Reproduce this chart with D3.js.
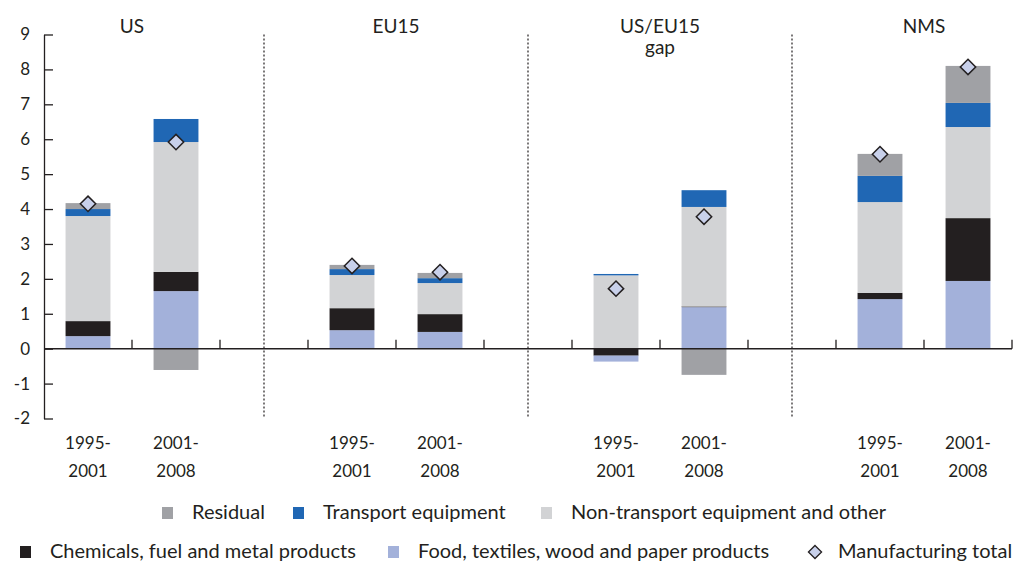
<!DOCTYPE html>
<html lang="en">
<head>
    <meta charset="UTF-8">
    <title>Manufacturing productivity growth by industry</title>
    <script src="https://d3js.org/d3.v7.min.js"></script>
    <style>
        body { margin: 0; background: white; }
        svg { display: block; font-family: Lato, "Open Sans", sans-serif; }
        text { fill: #231f20; }
    </style>
</head>
<body>
    <svg id="chart"></svg>

    <script>
        const width = 1016;
        const height = 562;

        // Data
        const groups = ["US", "EU15", "US/EU15 gap", "NMS"];
        const periods = ["1995-2001", "2001-2008"];

        // one value per bar, in order US 95-01, US 01-08, EU15 95-01, ...
        const food      = [0.36, 1.65, 0.53, 0.48, -0.17, 1.19, 1.42, 1.94];
        const chemicals = [0.43, 0.55, 0.63, 0.51, -0.20, 0.02, 0.18, 1.80];
        const nonTrans  = [3.01, 3.72, 0.95, 0.89, 2.10, 2.85, 2.60, 2.61];
        const transport = [0.20, 0.66, 0.17, 0.14, 0.04, 0.48, 0.75, 0.69];
        const residual  = [0.17, -0.61, 0.12, 0.15, 0.00, -0.75, 0.63, 1.06];
        const totals    = [4.15, 5.92, 2.37, 2.19, 1.72, 3.78, 5.57, 8.07];

        const yTicks = [-2, -1, 0, 1, 2, 3, 4, 5, 6, 7, 8, 9];

        const series = [
            { key: "food", label: "Food, textiles, wood and paper products", values: food, color: "#a3b1da" },
            { key: "chem", label: "Chemicals, fuel and metal products", values: chemicals, color: "#231f20" },
            { key: "nontrans", label: "Non-transport equipment and other", values: nonTrans, color: "#d2d3d5" },
            { key: "transport", label: "Transport equipment", values: transport, color: "#2067b4" },
            { key: "residual", label: "Residual", values: residual, color: "#a0a1a5" }
        ];

        const svg = d3.select("#chart")
            .attr("width", width)
            .attr("height", height);

        // slots: two bars per group, an empty slot (divider) between groups
        const slots = [];
        groups.forEach((g, gi) => {
            if (gi > 0) slots.push("div" + gi);
            periods.forEach(p => slots.push(g + "|" + p));
        });

        const x = d3.scaleBand()
            .domain(slots)
            .range([44, 1012])
            .padding(0);

        const y = d3.scaleLinear()
            .domain([-2, 9])
            .range([418.5, 34.5]);

        const barW = x.bandwidth() * 0.51;

        const bars = [];
        groups.forEach((g, gi) => periods.forEach((p, pi) => bars.push({ group: g, period: p, i: gi * 2 + pi })));

        // stack: positives upwards in series order, negatives downwards in reverse order
        const segments = [];
        bars.forEach(b => {
            let pos = 0;
            series.forEach(s => {
                const v = s.values[b.i];
                if (v > 0) { segments.push({ b, s, y0: pos, y1: pos + v }); pos += v; }
            });
            let neg = 0;
            series.slice().reverse().forEach(s => {
                const v = s.values[b.i];
                if (v < 0) { segments.push({ b, s, y0: neg + v, y1: neg }); neg += v; }
            });
        });

        const barX = b => x(b.group + "|" + b.period) + (x.bandwidth() - barW) / 2;
        const barC = b => x(b.group + "|" + b.period) + x.bandwidth() / 2;

        svg.append("g")
            .selectAll("rect")
            .data(segments)
            .join("rect")
            .attr("x", d => barX(d.b))
            .attr("width", barW)
            .attr("y", d => y(d.y1))
            .attr("height", d => y(d.y0) - y(d.y1))
            .attr("fill", d => d.s.color);

        // dotted dividers
        svg.append("g")
            .selectAll("line")
            .data(slots.filter(s => s.startsWith("div")))
            .join("line")
            .attr("x1", d => x(d) + x.bandwidth() / 2)
            .attr("x2", d => x(d) + x.bandwidth() / 2)
            .attr("y1", y(9))
            .attr("y2", y(-2))
            .attr("stroke", "#231f20")
            .attr("stroke-width", 1.2)
            .attr("stroke-dasharray", "2,2");

        // y axis
        const yAxis = svg.append("g")
            .attr("transform", "translate(44,0)")
            .call(d3.axisLeft(y).tickValues(yTicks).tickSize(-9).tickSizeOuter(0).tickPadding(14).tickFormat(d => String(d)));
        yAxis.select(".domain").attr("stroke", "#231f20").attr("stroke-width", 1.3);
        yAxis.selectAll(".tick line").attr("stroke", "#231f20").attr("stroke-width", 1.3);
        yAxis.selectAll(".tick text")
            .attr("font-size", 17)
            .attr("font-family", "Lato, 'Open Sans', sans-serif")
            .attr("fill", "#231f20");

        // zero line with upward ticks at slot boundaries
        svg.append("line")
            .attr("x1", 44).attr("x2", 1012)
            .attr("y1", y(0)).attr("y2", y(0))
            .attr("stroke", "#231f20").attr("stroke-width", 1.5);

        svg.append("g")
            .selectAll("line")
            .data(slots)
            .join("line")
            .attr("x1", d => x(d) + x.bandwidth())
            .attr("x2", d => x(d) + x.bandwidth())
            .attr("y1", y(0))
            .attr("y2", y(0) - 9)
            .attr("stroke", "#231f20").attr("stroke-width", 1.3);

        // diamonds for manufacturing total
        const diamond = d3.symbol().type(d3.symbolDiamond2).size(150);
        svg.append("g")
            .selectAll("path")
            .data(bars)
            .join("path")
            .attr("d", diamond)
            .attr("transform", d => `translate(${barC(d)},${y(totals[d.i])})`)
            .attr("fill", "#c8d0ea")
            .attr("stroke", "#231f20")
            .attr("stroke-width", 1.5);

        // period labels
        const xl = svg.append("g").attr("font-size", 17).attr("text-anchor", "middle");
        bars.forEach(b => {
            const parts = b.period.split("-");
            const t = xl.append("text").attr("x", barC(b)).attr("y", 449);
            t.append("tspan").attr("x", barC(b)).text(parts[0] + "-");
            t.append("tspan").attr("x", barC(b)).attr("dy", 28).text(parts[1]);
        });

        // group titles
        const gt = svg.append("g").attr("font-size", 19).attr("text-anchor", "middle");
        groups.forEach(g => {
            const cx = x(g + "|" + periods[0]) + x.bandwidth();
            const t = gt.append("text").attr("x", cx).attr("y", 33);
            if (g === "US/EU15 gap") {
                t.append("tspan").attr("x", cx).text("US/EU15");
                t.append("tspan").attr("x", cx).attr("dy", 21).text("gap");
            } else {
                t.text(g);
            }
        });

        // legend
        const legendItems = [
            { s: series[4], x: 162, y: 513 },
            { s: series[3], x: 293, y: 513 },
            { s: series[2], x: 541, y: 513 },
            { s: series[1], x: 20, y: 552 },
            { s: series[0], x: 388, y: 552 },
            { s: { label: "Manufacturing total", diamond: true }, x: 808, y: 552 }
        ];

        const lg = svg.append("g").attr("font-size", 20);
        legendItems.forEach(it => {
            if (it.s.diamond) {
                lg.append("path")
                    .attr("d", d3.symbol().type(d3.symbolDiamond2).size(110))
                    .attr("transform", `translate(${it.x + 7},${it.y})`)
                    .attr("fill", "#c8d0ea")
                    .attr("stroke", "#231f20")
                    .attr("stroke-width", 1.3);
                lg.append("text").attr("x", it.x + 30).attr("y", it.y + 6).text(it.s.label);
            } else {
                lg.append("rect")
                    .attr("x", it.x).attr("y", it.y - 6)
                    .attr("width", 11).attr("height", 12)
                    .attr("fill", it.s.color);
                lg.append("text").attr("x", it.x + 30).attr("y", it.y + 6).text(it.s.label);
            }
        });
    </script>
</body>
</html>
